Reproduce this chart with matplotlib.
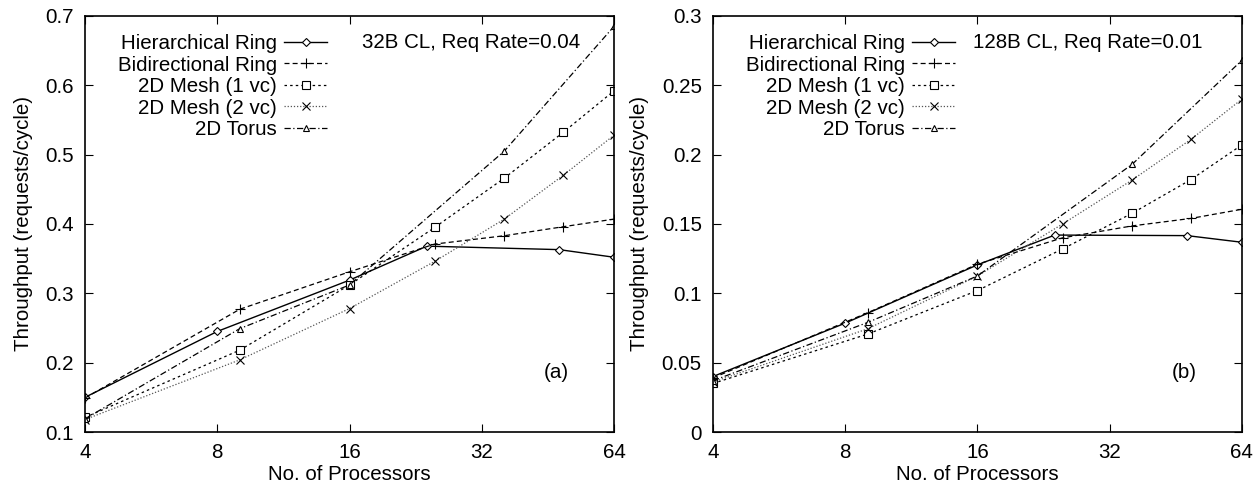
#!/usr/bin/env python3
# -*- coding: utf-8 -*-

import matplotlib
matplotlib.use('Agg')
import matplotlib.pyplot as plt

plt.rcParams['font.family'] = ['Liberation Sans', 'DejaVu Sans']
plt.rcParams['font.size'] = 14.8

# processor counts per topology
n_hier = [4, 8, 16, 24, 48, 64]
n_sq = [4, 9, 16, 25, 36, 49, 64]
n_torus = [4, 9, 16, 36, 64]

xticks = [4, 8, 16, 32, 64]
xtick_labels = ['4', '8', '16', '32', '64']

labels = ['Hierarchical Ring', 'Bidirectional Ring', '2D Mesh (1 vc)',
          '2D Mesh (2 vc)', '2D Torus']

# (a) 32B CL, Req Rate=0.04
hier_a = [0.150, 0.245, 0.319, 0.368, 0.363, 0.352]
bidir_a = [0.149, 0.277, 0.331, 0.371, 0.383, 0.396, 0.407]
mesh1_a = [0.121, 0.218, 0.312, 0.395, 0.466, 0.532, 0.592]
mesh2_a = [0.118, 0.204, 0.278, 0.346, 0.407, 0.470, 0.528]
torus_a = [0.119, 0.249, 0.312, 0.505, 0.685]
yticks_a = [0.1, 0.2, 0.3, 0.4, 0.5, 0.6, 0.7]
ytick_labels_a = ['0.1', '0.2', '0.3', '0.4', '0.5', '0.6', '0.7']

# (b) 128B CL, Req Rate=0.01
hier_b = [0.040, 0.0785, 0.1205, 0.142, 0.1416, 0.1368]
bidir_b = [0.039, 0.086, 0.121, 0.140, 0.1486, 0.154, 0.1606]
mesh1_b = [0.035, 0.0706, 0.102, 0.132, 0.1577, 0.182, 0.207]
mesh2_b = [0.036, 0.0744, 0.1125, 0.150, 0.1817, 0.211, 0.240]
torus_b = [0.037, 0.079, 0.1125, 0.193, 0.268]
yticks_b = [0, 0.05, 0.1, 0.15, 0.2, 0.25, 0.3]
ytick_labels_b = ['0', '0.05', '0.1', '0.15', '0.2', '0.25', '0.3']


def drawPanel(ax, series, yticks, ytick_labels, note, note_x, tag):
    styles = [
        dict(ls='-', marker='D', ms=4, color='black', lw=1.0),
        dict(ls=(0, (4, 2.5)), marker='+', ms=7, color='black', lw=0.9),
        dict(ls=(0, (2, 2.5)), marker='s', ms=5.5, color='black', lw=0.9),
        dict(ls=(0, (1, 1.5)), marker='x', ms=6, color='#555555', lw=0.9),
        dict(ls=(0, (5, 2, 1, 2)), marker='^', ms=5, color='black', lw=0.9),
    ]
    for (xs, ys), st, lab in zip(series, styles, labels):
        ax.plot(xs, ys, label=lab, mfc='white', mec='black', mew=0.8, **st)

    ax.set_xscale('log', base=2)
    ax.set_xlim(4, 64)
    ax.set_xticks(xticks)
    ax.set_xticklabels(xtick_labels)
    ax.minorticks_off()
    ax.set_ylim(yticks[0], yticks[-1])
    ax.set_yticks(yticks)
    ax.set_yticklabels(ytick_labels)
    ax.tick_params(direction='in', length=6, top=True, right=True, pad=8)
    for s in ax.spines.values():
        s.set_linewidth(1.2)

    ax.set_xlabel('No. of Processors', labelpad=2)
    ax.set_ylabel('Throughput (requests/cycle)', labelpad=9)
    ax.legend(loc='upper right', bbox_to_anchor=(0.458, 0.956), frameon=False,
              markerfirst=False, handlelength=2.1, handletextpad=0.35,
              labelspacing=0.12, borderpad=0, borderaxespad=0)
    ax.text(note_x, 0.935, note, transform=ax.transAxes, va='center', ha='left')
    ax.text(0.891, 0.144, tag, transform=ax.transAxes, va='center', ha='center')


fig = plt.figure(figsize=(12.57, 4.82), dpi=100)
ax1 = fig.add_axes([0.0676, 0.1037, 0.4209, 0.8633])
ax2 = fig.add_axes([0.5672, 0.1037, 0.4208, 0.8633])

drawPanel(ax1,
          [(n_hier, hier_a), (n_sq, bidir_a), (n_sq, mesh1_a),
           (n_sq, mesh2_a), (n_torus, torus_a)],
          yticks_a, ytick_labels_a, '32B CL, Req Rate=0.04', 0.524, '(a)')
drawPanel(ax2,
          [(n_hier, hier_b), (n_sq, bidir_b), (n_sq, mesh1_b),
           (n_sq, mesh2_b), (n_torus, torus_b)],
          yticks_b, ytick_labels_b, '128B CL, Req Rate=0.01', 0.491, '(b)')

fig.savefig('out.png', dpi=100)
